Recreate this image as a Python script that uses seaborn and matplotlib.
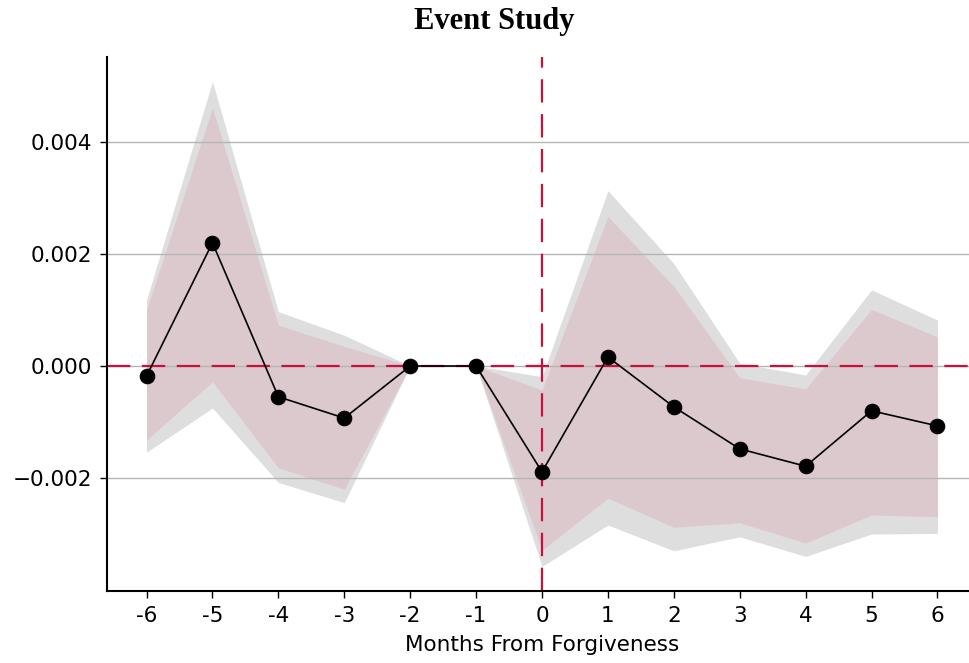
import matplotlib
matplotlib.use("Agg")
import matplotlib.pyplot as plt
import seaborn as sns
import pandas as pd
import numpy as np

# Event-study coefficients by month relative to forgiveness
months = [-6, -5, -4, -3, -2, -1, 0, 1, 2, 3, 4, 5, 6]
month_labels = ["-6", "-5", "-4", "-3", "-2", "-1", "0", "1", "2", "3", "4", "5", "6"]
coef = [-0.00018, 0.00220, -0.00055, -0.00093, 0.0, 0.0, -0.00189,
        0.00016, -0.00073, -0.00148, -0.00179, -0.00080, -0.00107]

# Outer (wide) confidence band
ci_wide_lo = [-0.00154, -0.00075, -0.00208, -0.00244, 0.0, 0.0, -0.00358,
              -0.00284, -0.00330, -0.00305, -0.00340, -0.00300, -0.00299]
ci_wide_hi = [0.00118, 0.00508, 0.00097, 0.00055, 0.0, 0.0, -0.00019,
              0.00313, 0.00183, 0.00005, -0.00016, 0.00136, 0.00082]

# Inner (narrow) confidence band
ci_narrow_lo = [-0.00132, -0.00028, -0.00182, -0.00220, 0.0, 0.0, -0.00329,
                -0.00236, -0.00288, -0.00280, -0.00316, -0.00266, -0.00269]
ci_narrow_hi = [0.00100, 0.00461, 0.00073, 0.00035, 0.0, 0.0, -0.00043,
                0.00267, 0.00142, -0.00021, -0.00041, 0.00101, 0.00052]

y_ticks = [-0.002, 0.0, 0.002, 0.004]

df = pd.DataFrame({"month": months, "coef": coef})

sns.set_style("white")
plt.rcParams["font.family"] = ["DejaVu Sans"]
plt.rcParams["text.color"] = "black"
plt.rcParams["axes.labelcolor"] = "black"
plt.rcParams["xtick.color"] = "black"
plt.rcParams["ytick.color"] = "black"

W, H = 969, 663
fig = plt.figure(figsize=(W / 100, H / 100), dpi=100)
ax = fig.add_axes([107 / W, (H - 591) / H, (977 - 107) / W, (591 - 57) / H])

crimson = "#c8103c"

ax.fill_between(months, ci_wide_lo, ci_wide_hi, color="#dedede", lw=0, zorder=0.6)
ax.fill_between(months, ci_narrow_lo, ci_narrow_hi, color="#dcc9cd", lw=0, zorder=0.7)

ax.set_axisbelow("line")
ax.yaxis.grid(True, color="#b5b5b5", lw=1.0)
ax.xaxis.grid(False)

ax.axhline(0, color=crimson, lw=1.6, dashes=(10.5, 5.2), zorder=2)
ax.axvline(0, color=crimson, lw=1.6, dashes=(10.5, 5.2), zorder=2)

sns.lineplot(data=df, x="month", y="coef", ax=ax, color="black", lw=1.2,
             marker="o", markersize=10.5, markeredgecolor="black", zorder=3)

ax.set_xlim(-6.6, 6.6)
ax.set_ylim(-0.004018, 0.005518)
ax.set_xticks(months)
ax.set_xticklabels(month_labels)
ax.set_yticks(y_ticks)

ax.tick_params(axis="both", labelsize=15.5, length=5, width=1, color="black",
               labelcolor="black", left=True, bottom=True, pad=6)
for side in ["left", "bottom"]:
    ax.spines[side].set_linewidth(1.5)
    ax.spines[side].set_color("black")
sns.despine(ax=ax)

ax.set_xlabel("Months From Forgiveness", fontsize=15.5, labelpad=6, color="black")
ax.set_ylabel("")

fig.text(494 / W, 1 - 22 / H, "Event Study", ha="center", va="center",
         fontsize=22, fontweight="bold", color="black",
         family=["Liberation Serif", "DejaVu Serif"])

fig.savefig("out.png", dpi=100)
